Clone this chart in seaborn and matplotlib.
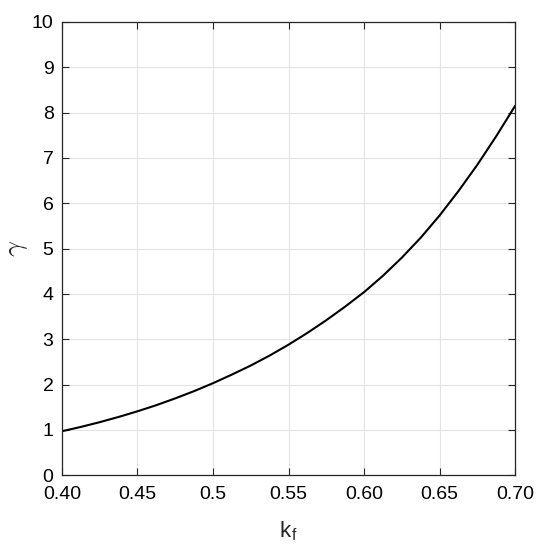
import pandas as pd
import matplotlib
matplotlib.use("Agg")
import matplotlib.pyplot as plt
import seaborn as sns

# datos
kf = [0.4000, 0.4125, 0.4250, 0.4375, 0.4500, 0.4625, 0.4750, 0.4875,
      0.5000, 0.5125, 0.5250, 0.5375, 0.5500, 0.5625, 0.5750, 0.5875,
      0.6000, 0.6125, 0.6250, 0.6375, 0.6500, 0.6625, 0.6750, 0.6875,
      0.7000]
gamma = [0.97, 1.065, 1.17, 1.285, 1.41, 1.545, 1.695, 1.855,
         2.03, 2.22, 2.42, 2.64, 2.88, 3.14, 3.42, 3.72,
         4.04, 4.40, 4.80, 5.24, 5.73, 6.27, 6.85, 7.48,
         8.15]

x_ticks = [0.40, 0.45, 0.50, 0.55, 0.60, 0.65, 0.70]
x_tick_labels = ["0.40", "0.45", "0.5", "0.55", "0.60", "0.65", "0.70"]
y_ticks = list(range(0, 11))

sns.set_style("ticks")
plt.rcParams["font.family"] = ["Liberation Sans", "DejaVu Sans"]
plt.rcParams["mathtext.fontset"] = "cm"

df = pd.DataFrame({"kf": kf, "gamma": gamma})

fig = plt.figure(figsize=(5.48, 5.50), dpi=100)
ax = fig.add_axes([0.113, 0.136, 0.827, 0.824])

sns.lineplot(data=df, x="kf", y="gamma", color="black", linewidth=1.5, ax=ax)

ax.set_xlim(0.4, 0.7)
ax.set_ylim(0, 10)
ax.set_xticks(x_ticks)
ax.set_xticklabels(x_tick_labels)
ax.set_yticks(y_ticks)
ax.grid(True, color="#e3e3e3", linewidth=0.8)
ax.tick_params(direction="in", top=True, right=True, length=5,
               labelsize=14, colors="#262626", labelcolor="black")
ax.tick_params(axis="x", pad=8)
ax.tick_params(axis="y", pad=6)
for s in ax.spines.values():
    s.set_visible(True)
    s.set_color("#262626")
    s.set_linewidth(0.9)

ax.set_xlabel(r"k$_\mathregular{f}$", fontsize=16)
ax.set_ylabel(r"$\gamma$", fontsize=20)
ax.xaxis.set_label_coords(0.5, -0.098)
ax.yaxis.set_label_coords(-0.07, 0.5)

plt.savefig("out.png", dpi=100)
plt.close()
